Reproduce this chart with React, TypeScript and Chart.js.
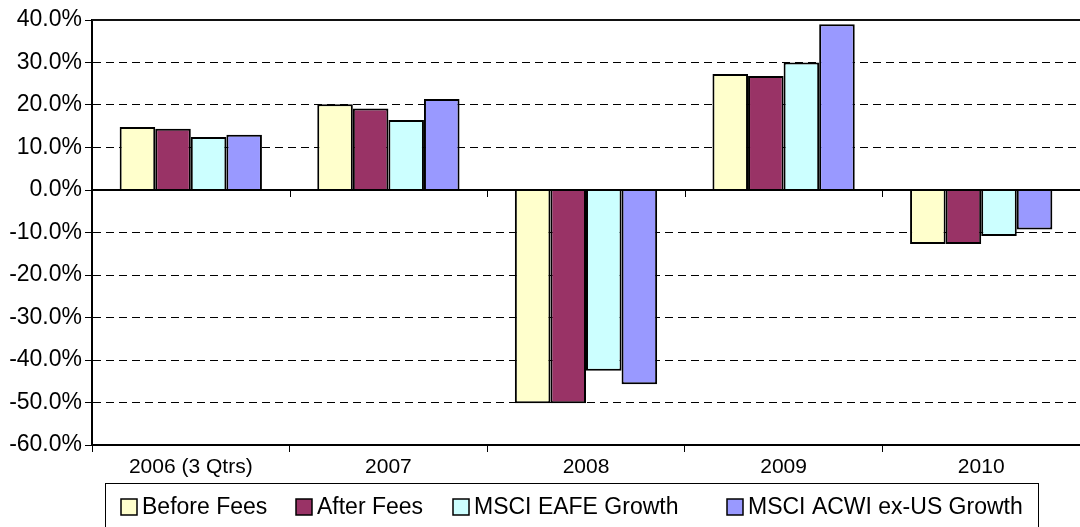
import React, { useEffect, useRef } from "react";
import { Chart, registerables } from "chart.js";

Chart.register(...registerables);

const categories = ["2006 (3 Qtrs)", "2007", "2008", "2009", "2010"];
const beforeFees = [14.8, 20.2, -50.2, 27.3, -12.7];
const afterFees = [14.4, 19.2, -50.2, 26.8, -12.7];
const eafeGrowth = [12.5, 16.5, -42.5, 30.0, -10.8];
const acwiGrowth = [13.0, 21.4, -45.7, 39.0, -9.3];
const seriesLabels = ["Before Fees", "After Fees", "MSCI EAFE Growth", "MSCI ACWI ex-US Growth"];
const seriesColors = ["#FFFFCC", "#993366", "#CCFFFF", "#9999FF"];

const FONT = '"Liberation Sans", Arial, sans-serif';
const LEGEND_X = [121, 296, 453, 727];

const customPlugin = {
  id: "excelDecor",
  afterDraw(chart: any) {
    const { ctx, chartArea } = chart;
    const y = chart.scales.y;
    ctx.save();
    // top border
    ctx.strokeStyle = "#111";
    ctx.lineWidth = 2;
    ctx.setLineDash([]);
    ctx.beginPath();
    ctx.moveTo(chartArea.left, chartArea.top);
    ctx.lineTo(chartArea.right, chartArea.top);
    ctx.stroke();
    // zero line
    const zy = Math.round(y.getPixelForValue(0));
    ctx.strokeStyle = "#000";
    ctx.lineWidth = 2;
    ctx.beginPath();
    ctx.moveTo(chartArea.left, zy);
    ctx.lineTo(chartArea.right, zy);
    ctx.stroke();
    // ticks under zero line
    const n = categories.length;
    const cw = (chartArea.right - chartArea.left) / n;
    ctx.lineWidth = 1;
    for (let i = 1; i < n; i++) {
      const tx = Math.round(chartArea.left + i * cw) + 0.5;
      ctx.beginPath();
      ctx.moveTo(tx, zy);
      ctx.lineTo(tx, zy + 7);
      ctx.stroke();
    }
    // legend
    const lx0 = 105;
    const ly0 = 483;
    const lx1 = 1038;
    ctx.strokeStyle = "#000";
    ctx.lineWidth = 1;
    ctx.strokeRect(lx0 + 0.5, ly0 + 0.5, lx1 - lx0, 80);
    ctx.font = "23px " + FONT;
    ctx.textBaseline = "middle";
    ctx.textAlign = "left";
    const cyMid = 507;
    chart.data.datasets.forEach((ds: any, i: number) => {
      const cx = LEGEND_X[i];
      ctx.fillStyle = ds.backgroundColor;
      ctx.fillRect(cx, cyMid - 8, 16, 16);
      ctx.strokeStyle = "#000";
      ctx.lineWidth = 1.5;
      ctx.strokeRect(cx, cyMid - 8, 16, 16);
      ctx.fillStyle = "#000";
      ctx.fillText(ds.label, cx + 21, cyMid + 1);
    });
    ctx.restore();
  },
};

export default function App() {
  const ref = useRef<HTMLCanvasElement | null>(null);
  useEffect(() => {
    if (!ref.current) return;
    const datasets = [beforeFees, afterFees, eafeGrowth, acwiGrowth].map((d, i) => ({
      label: seriesLabels[i],
      data: d,
      backgroundColor: seriesColors[i],
      borderColor: "#000",
      borderWidth: 2,
      categoryPercentage: 0.72,
      barPercentage: 1.0,
    }));
    const chart = new Chart(ref.current, {
      type: "bar",
      data: { labels: categories, datasets },
      options: {
        animation: false,
        responsive: false,
        maintainAspectRatio: false,
        layout: { padding: { top: 20, left: 0, right: 0, bottom: 44 } },
        plugins: { legend: { display: false }, tooltip: { enabled: false } },
        scales: {
          x: {
            offset: true,
            grid: {
              display: true,
              drawOnChartArea: false,
              drawTicks: true,
              tickLength: 7,
              color: "#000",
              offset: true,
            },
            border: { display: true, color: "#000", width: 2 },
            ticks: {
              color: "#000",
              font: { family: FONT, size: 21 },
              padding: 3,
              maxRotation: 0,
              autoSkip: false,
            },
            afterFit: (s: any) => {
              s.height = 38;
            },
          },
          y: {
            min: -60,
            max: 40,
            ticks: {
              stepSize: 10,
              color: "#000",
              font: { family: FONT, size: 23 },
              padding: 3,
              callback: (v: any) => Number(v).toFixed(1) + "%",
            },
            grid: {
              drawTicks: true,
              tickLength: 7,
              tickColor: "#000",
              tickBorderDash: [],
              lineWidth: 1,
              color: (c: any) => {
                const v = c.tick ? c.tick.value : null;
                if (v === 0 || v === 40 || v === -60) return "rgba(0,0,0,0)";
                return "#000";
              },
            },
            border: { display: true, color: "#000", width: 2, dash: [8, 5] },
            afterFit: (s: any) => {
              s.width = 92;
            },
          },
        },
      },
      plugins: [customPlugin],
    });
    return () => chart.destroy();
  }, []);
  return (
    <div style={{ position: "fixed", left: 0, top: 0, width: 1080, height: 527, background: "#fff" }}>
      <canvas ref={ref} width={1080} height={527} style={{ width: 1080, height: 527 }} />
    </div>
  );
}
